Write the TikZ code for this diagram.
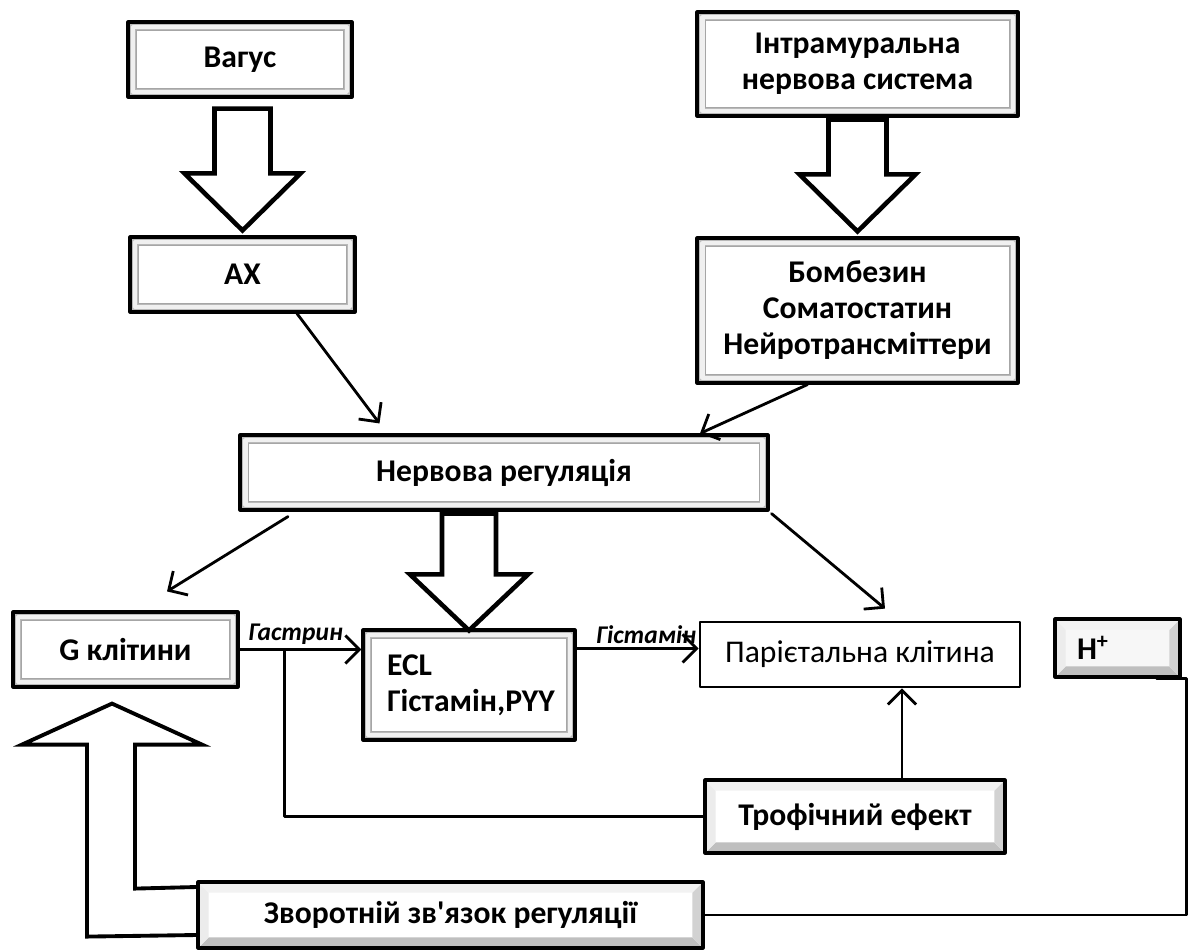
\documentclass[tikz,border=0pt]{standalone}
\usepackage{fontspec}
\setmainfont{Carlito}
\usepackage{tikz}
\usetikzlibrary{arrows.meta,calc}

\begin{document}
\begin{tikzpicture}[x=0.02cm,y=-0.02cm,line cap=round,line join=round,
  bevel/.style={draw,line width=1.8pt,fill=white,inner sep=0pt,align=center,
    font=\fontsize{18}{20.5}\selectfont\bfseries,
    path picture={
      \draw[gray!55,line width=10pt] (path picture bounding box.south west) rectangle (path picture bounding box.north east);
      \draw[gray!12,line width=2.5pt] ([shift={(3pt,3pt)}]path picture bounding box.south west) rectangle ([shift={(-3pt,-3pt)}]path picture bounding box.north east);
      \draw[gray!70,line width=0.7pt] ([shift={(5pt,5pt)}]path picture bounding box.south west) rectangle ([shift={(-5pt,-5pt)}]path picture bounding box.north east);}},
  btn/.style={draw,line width=1.8pt,fill=white,inner sep=0pt,
    font=\fontsize{18}{20.5}\selectfont\bfseries,
    path picture={
      \fill[gray!50] (path picture bounding box.south west) -- (path picture bounding box.south east) -- ([shift={(-6pt,6pt)}]path picture bounding box.south east) -- ([shift={(6pt,6pt)}]path picture bounding box.south west) -- cycle;
      \fill[gray!35] (path picture bounding box.south east) -- (path picture bounding box.north east) -- ([shift={(-6pt,-6pt)}]path picture bounding box.north east) -- ([shift={(-6pt,6pt)}]path picture bounding box.south east) -- cycle;
      \fill[gray!15] (path picture bounding box.south west) -- (path picture bounding box.north west) -- ([shift={(6pt,-6pt)}]path picture bounding box.north west) -- ([shift={(6pt,6pt)}]path picture bounding box.south west) -- cycle;
      \fill[gray!10] (path picture bounding box.north west) -- (path picture bounding box.north east) -- ([shift={(-6pt,-6pt)}]path picture bounding box.north east) -- ([shift={(6pt,-6pt)}]path picture bounding box.north west) -- cycle;}},
  plainbox/.style={draw,line width=1.6pt,fill=white,inner sep=0pt,
    font=\fontsize{18}{20.5}\selectfont},
  conn/.style={line width=1.6pt,-{Straight Barb[length=8pt,width=16pt]}},
  wire/.style={line width=1.6pt},
  hollow/.style={line width=2.6pt,fill=white,line join=miter},
  lbl/.style={font=\fontsize{14.5}{16}\selectfont\bfseries\itshape,inner sep=2pt}]
\useasboundingbox (0,0) rectangle (1194,951);

% boxes
\node[bevel,minimum width=4.48cm,minimum height=1.5cm] (vagus) at (240,59.5) {Вагус};
\node[bevel,minimum width=4.5cm,minimum height=1.5cm] (ach) at (242.5,274.5) {АХ};
\node[bevel,minimum width=6.42cm,minimum height=2.08cm] (intra) at (857.5,64) {Інтрамуральна\\нервова система};
\node[bevel,minimum width=6.42cm,minimum height=2.9cm] (bomb) at (857.5,310.5) {Бомбезин\\Соматостатин\\Нейротрансміттери};
\node[bevel,minimum width=10.56cm,minimum height=1.5cm] (nerv) at (504,472.5) {Нервова регуляція};
\node[bevel,minimum width=4.5cm,minimum height=1.5cm] (gcell) at (125.5,649.5) {G клітини};
\node[bevel,minimum width=4.24cm,minimum height=2.2cm,text width=3.28cm,align=left] (ecl) at (469,685) {ECL\\Гістамін,PYY};
\node[plainbox,minimum width=6.4cm,minimum height=1.3cm] (pariet) at (860,654.5) {Парієтальна клітина};
\node[btn,fill=gray!6,minimum width=2.5cm,minimum height=1.16cm,text width=1.62cm,align=left] (hplus) at (1117.5,648) {H\textsuperscript{+}};
\node[btn,minimum width=6cm,minimum height=1.46cm] (troph) at (855,816.5) {Трофічний ефект};
\node[btn,minimum width=10.1cm,minimum height=1.32cm] (feedb) at (450.5,915) {Зворотній зв\textquotesingle{}язок регуляції};

% big hollow arrows
\draw[hollow] ($(vagus.south -| ach.north)+(-28,10)$) -- ($(ach.north)+(-28,-62)$) -- ++(-30,0) -- ($(ach.north)+(0,-5)$) -- ($(ach.north)+(58,-62)$) -- ++(-30,0) -- ($(vagus.south -| ach.north)+(28,10)$) -- cycle;
\draw[hollow] ($(intra.south -| bomb.north)+(-29,2)$) -- ($(bomb.north)+(-29,-62)$) -- ++(-29,0) -- ($(bomb.north)+(0,-5)$) -- ($(bomb.north)+(58,-62)$) -- ++(-29,0) -- ($(intra.south -| bomb.north)+(29,2)$) -- cycle;
\draw[hollow] ($(nerv.south -| ecl.north)+(-27,2)$) -- ($(ecl.north)+(-27,-54)$) -- ++(-32,0) -- ($(ecl.north)+(0,2)$) -- ($(ecl.north)+(59,-54)$) -- ++(-32,0) -- ($(nerv.south -| ecl.north)+(27,2)$) -- cycle;
\coordinate (fbtip) at ($(gcell.south)+(-13.5,15)$);
\draw[line width=2.2pt,line join=miter] ($(feedb.west)+(0,-28)$) -- ($(fbtip)+(23,185)$) -- ($(fbtip)+(23,41)$) -- ($(fbtip)+(90,41)$) -- (fbtip) -- ($(fbtip)+(-90,41)$) -- ($(fbtip)+(-25,41)$) -- ($(fbtip)+(-25,233)$) -- ($(feedb.west)+(0,20)$);

% thin connectors
\draw[conn] ($(ach.south)+(54.5,0)$) -- ($(nerv.north)+(-124.5,-10)$);
\draw[conn] ($(bomb.south)+(-50,0)$) -- ($(nerv.north)+(196,0)$);
\draw[conn] ($(nerv.south)+(-216,5)$) -- ($(gcell.north)+(41.5,-19)$);
\draw[conn] ($(nerv.south east)+(2,2)$) -- ($(pariet.north)+(25,-12)$);
\coordinate (gjoin) at ($(gcell.east)+(45,0)$);
\draw[conn] (gcell.east) -- (gcell.east -| ecl.west) node[lbl,pos=0.46,above] {Гастрин};
\coordinate (hst) at ($(ecl.north east)+(0,20)$);
\draw[conn] (hst) -- (hst -| pariet.west) node[lbl,pos=0.57,above] {Гістамін};
\draw[conn] ($(troph.north)+(47,0)$) -- ($(pariet.south)+(42,0)$);
\draw[wire] (troph.west) -| (gjoin);
\draw[wire] ($(hplus.south east)+(-25,0)$) -- ++(30,0) |- (feedb.east);
\end{tikzpicture}
\end{document}
